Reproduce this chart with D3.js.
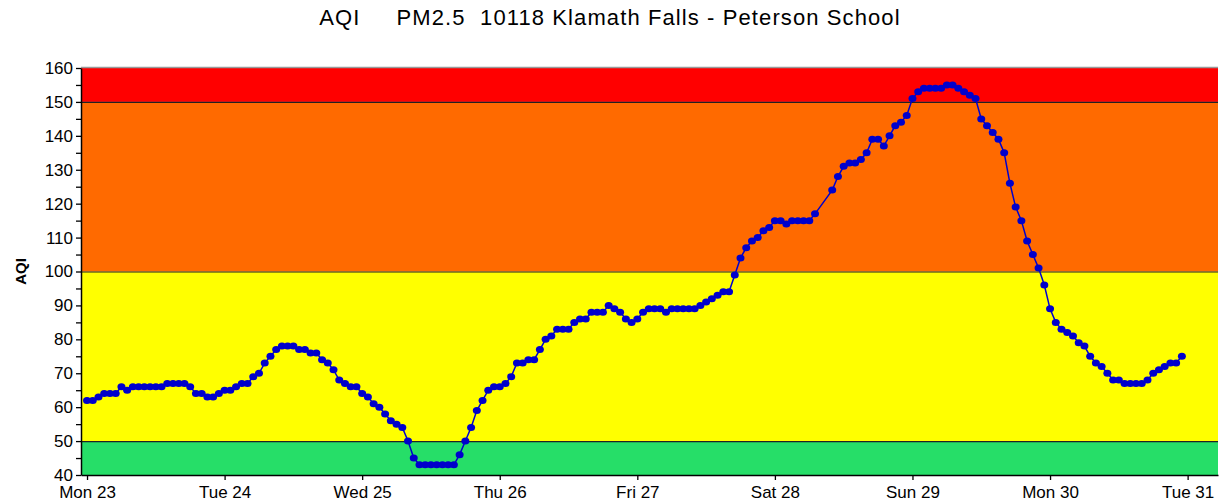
<!DOCTYPE html>
<html>
<head>
<meta charset="utf-8">
<script src="https://cdn.jsdelivr.net/npm/d3@7"></script>
<style>
  body { margin: 0; background: #fff; }
  svg text { font-family: "Liberation Sans", Arial, sans-serif; }
</style>
</head>
<body>
<script>
// hourly AQI readings, one array per day (hour 0..23)
var mon23 = [62,62,63,64,64,64,66,65,66,66,66,66,66,66,67,67,67,67,66,64,64,63,63,64];
var tue24 = [65,65,66,67,67,69,70,73,75,77,78,78,78,77,77,76,76,74,73,71,68,67,66,66];
var wed25 = [64,63,61,60,58,56,55,54,50,45,43,43,43,43,43,43,43,46,50,54,59,62,65,66];
var thu26 = [66,67,69,73,73,74,74,77,80,81,83,83,83,85,86,86,88,88,88,90,89,88,86,85];
var fri27 = [86,88,89,89,89,88,89,89,89,89,89,90,91,92,93,94,94,99,104,107,109,110,112,113];
var sat28 = [115,115,114,115,115,115,115,117,null,null,124,128,131,132,132,133,135,139,139,137,140,143,144,146];
var sun29 = [151,153,154,154,154,154,155,155,154,153,152,151,145,143,141,139,135,126,119,115,109,105,101,96];
var mon30 = [89,85,83,82,81,79,78,75,73,72,70,68,68,67,67,67,67,68,70,71,72,73,73,75];

var dayLabels = ["Mon 23","Tue 24","Wed 25","Thu 26","Fri 27","Sat 28","Sun 29","Mon 30","Tue 31"];
var yTicks = [40,50,60,70,80,90,100,110,120,130,140,150,160];
var yMinor = [45,55,65,75,85,95,105,115,125,135,145,155];

var bandLow   = [40, 50, 100, 150];
var bandHigh  = [50, 100, 150, 160];
var bandColor = ["#26de68", "#ffff00", "#ff6a00", "#ff0000"];

var title = "AQI     PM2.5  10118 Klamath Falls - Peterson School";

var width = 1219, height = 501;
var plotLeft = 81, plotRight = 1218, plotTop = 68, plotBottom = 475;

var start = new Date(2021, 7, 23, 0, 0);
var hour = 3600 * 1000;

var values = [].concat(mon23, tue24, wed25, thu26, fri27, sat28, sun29, mon30);
var data = values.map(function(v, i) {
  return { t: new Date(start.getTime() + i * hour), v: v };
}).filter(function(d) { return d.v != null; });

var dayDates = dayLabels.map(function(l, i) { return new Date(start.getTime() + i * 24 * hour); });

var x = d3.scaleTime()
    .domain([new Date(start.getTime() - 1.05 * hour), new Date(start.getTime() + 197.3 * hour)])
    .range([plotLeft, plotRight]);

var y = d3.scaleLinear()
    .domain([40, 160])
    .range([plotBottom, plotTop]);

var svg = d3.select("body").append("svg")
    .attr("width", width)
    .attr("height", height);

// colour bands
svg.selectAll("rect.band")
    .data(bandLow)
  .enter().append("rect")
    .attr("class", "band")
    .attr("x", plotLeft)
    .attr("width", plotRight - plotLeft)
    .attr("y", function(d, i) { return y(bandHigh[i]); })
    .attr("height", function(d, i) { return y(d) - y(bandHigh[i]); })
    .attr("fill", function(d, i) { return bandColor[i]; });

// band borders
svg.selectAll("line.edge")
    .data([50, 100, 150])
  .enter().append("line")
    .attr("x1", plotLeft).attr("x2", plotRight)
    .attr("y1", function(d) { return y(d) + 0.5; })
    .attr("y2", function(d) { return y(d) + 0.5; })
    .attr("stroke", "#222")
    .attr("stroke-width", 1.2);

svg.append("line")
    .attr("x1", plotLeft).attr("x2", plotRight)
    .attr("y1", plotTop - 0.5).attr("y2", plotTop - 0.5)
    .attr("stroke", "#999").attr("stroke-width", 1.5);

// axes
svg.append("g")
    .attr("transform", "translate(" + plotLeft + ",0)")
    .call(d3.axisLeft(y).tickValues(yTicks).tickSize(5).tickPadding(3).tickSizeOuter(0));
svg.append("g")
    .attr("transform", "translate(" + plotLeft + ",0)")
    .call(d3.axisLeft(y).tickValues(yMinor).tickSize(5).tickFormat("").tickSizeOuter(0))
    .select(".domain").remove();

svg.append("g")
    .attr("transform", "translate(0," + plotBottom + ")")
    .call(d3.axisBottom(x).tickValues(dayDates).tickSize(5).tickPadding(6).tickSizeOuter(0)
      .tickFormat(function(d, i) { return dayLabels[i]; }));

svg.selectAll(".tick text")
    .attr("font-size", 17)
    .attr("font-family", "Liberation Sans, Arial, sans-serif")
    .attr("fill", "#000");
svg.selectAll(".domain").attr("stroke", "#000").attr("stroke-width", 1.5);
svg.selectAll(".tick line").attr("stroke", "#000").attr("stroke-width", 1.3);

// the series
var line = d3.line()
    .x(function(d) { return x(d.t); })
    .y(function(d) { return y(d.v); });

svg.append("path")
    .datum(data)
    .attr("d", line)
    .attr("fill", "none")
    .attr("stroke", "#0000cc")
    .attr("stroke-width", 1.5);

svg.selectAll("ellipse.pt")
    .data(data)
  .enter().append("ellipse")
    .attr("class", "pt")
    .attr("cx", function(d) { return x(d.t); })
    .attr("cy", function(d) { return y(d.v); })
    .attr("rx", 4)
    .attr("ry", 3.5)
    .attr("fill", "#0000cc");

// titles
svg.append("text")
    .attr("x", 610)
    .attr("y", 25)
    .attr("text-anchor", "middle")
    .attr("font-size", 22)
    .attr("letter-spacing", 1.1)
    .style("white-space", "pre")
    .attr("fill", "#000")
    .text(title);

svg.append("text")
    .attr("transform", "translate(26," + y(100) + ") rotate(-90)")
    .attr("text-anchor", "middle")
    .attr("font-size", 15)
    .attr("font-weight", "bold")
    .text("AQI");
</script>
</body>
</html>
